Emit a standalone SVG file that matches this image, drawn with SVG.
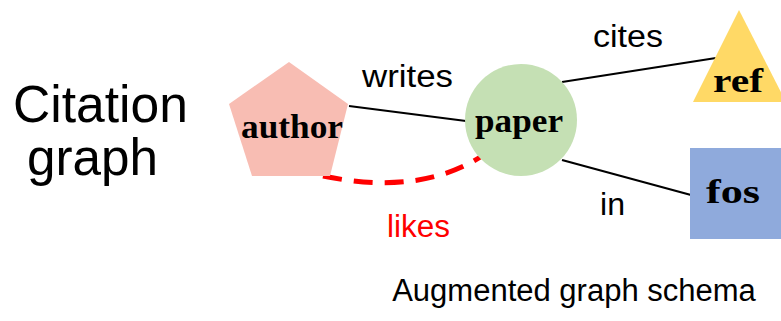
<svg xmlns="http://www.w3.org/2000/svg" width="781" height="321" viewBox="0 0 781 321">
  <style>
    .title { font-family: "Liberation Sans", Arial, sans-serif; fill: #000; }
    .edge-label { font-family: "Liberation Sans", Arial, sans-serif; font-size: 31px; fill: #000; }
    .node-label { font-family: "Liberation Serif", "Times New Roman", serif; font-weight: bold; font-size: 34px; fill: #000; }
    .edge { stroke: #000; stroke-width: 2.2; fill: none; }
  </style>
  <rect width="781" height="321" fill="#fff"/>

  <!-- Left-hand caption -->
  <g id="caption-left">
    <text class="title" x="13" y="122" font-size="52" textLength="175" lengthAdjust="spacingAndGlyphs">Citation</text>
    <text class="title" x="27" y="175" font-size="52" textLength="131" lengthAdjust="spacingAndGlyphs">graph</text>
  </g>

  <!-- Connectors -->
  <g id="connectors">
    <line class="edge" x1="349" y1="106" x2="466" y2="121"/>
    <line class="edge" x1="562" y1="82" x2="716" y2="58"/>
    <line class="edge" x1="562" y1="160" x2="691" y2="195"/>
    <path d="M323,176 Q420,196 482,156" fill="none" stroke="#FF0000" stroke-width="5" stroke-dasharray="19 12"/>
    <text class="edge-label" x="362" y="87" textLength="91" lengthAdjust="spacingAndGlyphs">writes</text>
    <text class="edge-label" x="593" y="47" textLength="70" lengthAdjust="spacingAndGlyphs">cites</text>
    <text class="edge-label" x="600" y="215" textLength="25" lengthAdjust="spacingAndGlyphs">in</text>
    <text class="edge-label" x="387" y="237" textLength="63" lengthAdjust="spacingAndGlyphs" style="fill:#FF0000">likes</text>
  </g>

  <!-- Nodes -->
  <g id="author">
    <polygon points="289,62 348,104 330,176 252,176 229,104" fill="#F8BDB3"/>
    <text class="node-label" x="241" y="138" textLength="102" lengthAdjust="spacingAndGlyphs">author</text>
  </g>
  <g id="paper">
    <circle cx="521" cy="120" r="56" fill="#C5E0B4"/>
    <text class="node-label" x="475" y="132" textLength="88" lengthAdjust="spacingAndGlyphs">paper</text>
  </g>
  <g id="ref">
    <polygon points="739,10 786,102 693,102" fill="#FFD966"/>
    <text class="node-label" x="713" y="92" textLength="50" lengthAdjust="spacingAndGlyphs">ref</text>
  </g>
  <g id="fos">
    <rect x="690" y="148" width="95" height="91" fill="#8FAADC"/>
    <text class="node-label" x="706" y="203" textLength="54" lengthAdjust="spacingAndGlyphs">fos</text>
  </g>

  <!-- Bottom caption -->
  <g id="caption-bottom">
    <text class="title" x="574" y="301" font-size="31" text-anchor="middle">Augmented graph schema</text>
  </g>
</svg>
